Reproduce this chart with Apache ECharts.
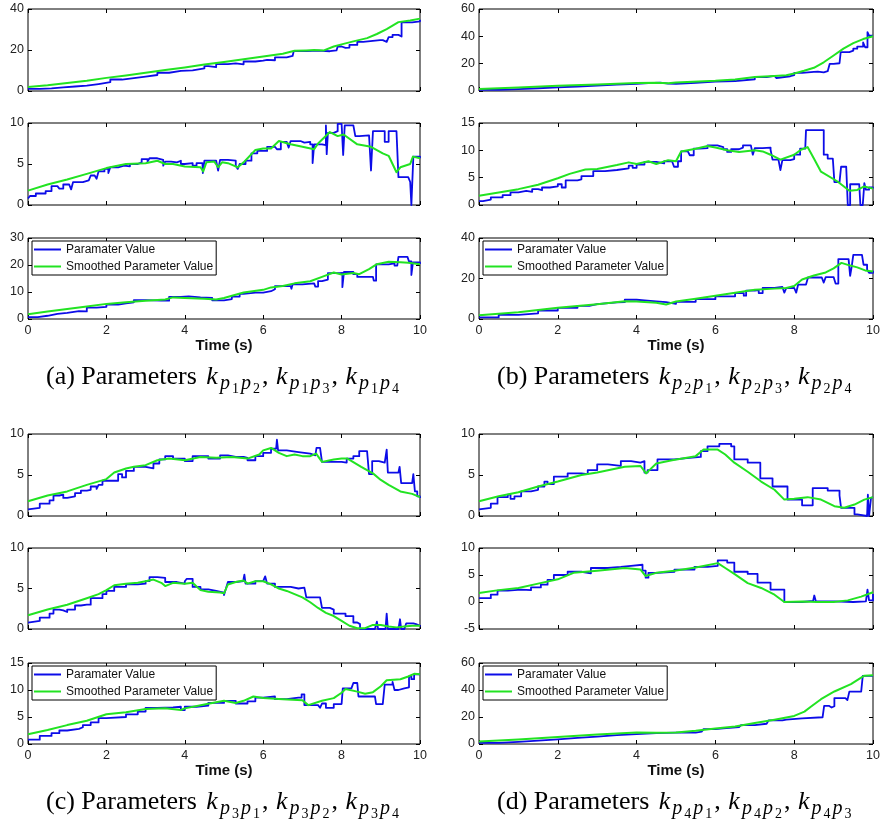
<!DOCTYPE html>
<html>
<head>
<meta charset="utf-8">
<title>Parameter estimates</title>
<script src="https://cdn.jsdelivr.net/npm/echarts@6.0.0/dist/echarts.min.js"></script>
<style>
  html, body { margin: 0; padding: 0; background: #fff; }
  #chart { width: 882px; height: 830px; }
</style>
</head>
<body>
<div id="chart"></div>
<script>
// ---- time axis ----
const timeRange = [0, 10, 2];

// ---- (a) k_p1p2, k_p1p3, k_p1p4 ----
const a1Raw = [[0,1.0],[0.3,1.3],[0.6,1.8],[0.9,2.2],[1.2,2.6],[1.5,3.4],[1.8,4.3],[2.1,5.6],[2.4,6.3],[2.7,7.0],[3.0,7.8],[3.3,8.9],[3.6,9.8],[3.9,10.1],[4.2,11.0],[4.5,12.1],[4.6,11.6],[4.8,13.1],[5.1,13.5],[5.3,13.0],[5.5,14.4],[5.8,14.8],[6.0,15.2],[6.1,15.0],[6.3,16.4],[6.6,17.1],[6.75,17.6],[6.78,19.5],[7.1,19.7],[7.4,19.4],[7.7,19.8],[7.87,20.0],[7.9,21.7],[8.0,21.0],[8.1,21.2],[8.2,22.5],[8.4,24.0],[8.55,24.8],[8.98,24.8],[9.05,24.0],[9.15,24.1],[9.2,26.3],[9.3,27.4],[9.45,27.2],[9.5,26.6],[9.53,33.5],[9.8,33.6],[9.85,34.0],[10,34.8]];
const a1Smooth = [[0,2.0],[0.5,2.8],[1,3.9],[1.5,5.0],[2,6.4],[2.5,7.6],[3,8.9],[3.5,10.2],[4,11.5],[4.5,12.9],[5,14.2],[5.5,15.5],[6,16.8],[6.5,18.2],[6.8,19.6],[7.1,19.8],[7.3,20.0],[7.55,19.8],[7.8,21.7],[8.05,23.0],[8.3,24.2],[8.65,25.8],[8.9,27.8],[9.15,30.2],[9.45,33.6],[9.75,34.4],[10,35.3]];
const a2Raw = [[0,0.8],[0.05,1.1],[0.2,1.4],[0.45,1.7],[0.6,2.3],[0.75,2.4],[0.8,2.0],[0.9,2.5],[1.05,2.3],[1.1,1.9],[1.15,2.8],[1.4,3.0],[1.55,2.9],[1.6,3.6],[1.7,3.8],[1.75,3.2],[1.8,4.1],[1.95,4.4],[2.05,3.9],[2.1,4.6],[2.3,4.8],[2.45,4.7],[2.6,5.0],[2.8,5.2],[2.9,5.6],[3.05,5.3],[3.1,5.7],[3.3,5.5],[3.45,4.8],[3.5,5.3],[3.65,5.2],[3.8,5.4],[3.9,5.0],[4.0,5.1],[4.2,4.8],[4.3,5.1],[4.45,5.0],[4.46,3.9],[4.5,5.4],[4.7,5.4],[4.8,5.3],[4.85,4.2],[4.9,5.5],[5.1,5.4],[5.3,4.8],[5.35,4.4],[5.4,5.0],[5.55,5.4],[5.7,6.3],[5.85,6.6],[6.0,6.6],[6.1,7.1],[6.3,7.3],[6.35,6.8],[6.45,7.7],[6.6,7.6],[6.65,7.0],[6.7,7.8],[6.95,7.6],[7.05,7.7],[7.2,7.4],[7.26,5.1],[7.3,7.4],[7.5,7.3],[7.6,9.7],[7.62,6.2],[7.65,8.8],[7.8,9.0],[7.9,9.9],[8.0,9.8],[8.04,6.1],[8.08,9.7],[8.3,9.6],[8.35,8.4],[8.45,8.5],[8.7,8.4],[8.75,4.2],[8.8,9.0],[9.0,9.0],[9.1,7.7],[9.2,9.0],[9.4,9.0],[9.45,3.4],[9.7,3.3],[9.75,2.8],[9.78,0.0],[9.8,0.0],[9.83,5.9],[10,5.7]];
const a2Smooth = [[0,1.75],[0.5,2.5],[1,3.1],[1.5,3.8],[2,4.5],[2.5,5.0],[3,5.1],[3.3,5.4],[3.5,5.0],[3.7,5.0],[4,4.7],[4.4,4.6],[4.47,4.1],[4.55,5.2],[4.75,5.3],[4.85,4.6],[4.95,5.2],[5.1,5.1],[5.25,4.8],[5.35,4.6],[5.5,5.2],[5.8,6.7],[6.0,6.9],[6.2,6.9],[6.4,7.8],[6.7,7.4],[7.0,7.1],[7.3,6.8],[7.4,7.5],[7.7,8.9],[7.9,8.4],[8.05,8.6],[8.4,7.4],[8.75,7.1],[9.05,6.3],[9.2,6.0],[9.4,4.0],[9.5,4.6],[9.75,5.0],[9.82,5.9],[10,5.7]];
const a3Raw = [[0,0.7],[0.25,1.2],[0.5,1.9],[0.75,2.3],[1.0,2.9],[1.3,3.3],[1.35,2.8],[1.5,4.2],[1.75,4.5],[2.0,5.3],[2.3,5.8],[2.5,6.2],[2.7,7.0],[3.0,6.8],[3.4,6.8],[3.6,8.2],[3.9,8.4],[4.1,8.0],[4.4,7.8],[4.7,6.9],[5.0,7.4],[5.2,8.3],[5.4,9.3],[5.5,9.8],[5.8,9.8],[6.0,10.3],[6.2,11.0],[6.3,12.2],[6.7,12.4],[6.72,11.2],[6.75,12.8],[7.0,13.2],[7.3,13.5],[7.33,12.0],[7.4,14.0],[7.5,14.6],[7.65,17.0],[7.95,17.1],[8.02,11.8],[8.06,17.4],[8.3,16.6],[8.4,15.6],[8.8,15.6],[8.82,14.2],[8.88,20.2],[9.2,20.6],[9.35,19.8],[9.42,20.5],[9.45,23.0],[9.68,22.8],[9.72,21.3],[9.78,16.3],[9.82,21.0],[10,20.4]];
const a3Smooth = [[0,1.8],[0.5,2.8],[1,3.7],[1.5,4.6],[2,5.6],[2.5,6.2],[3,6.8],[3.5,7.2],[3.7,8.0],[4,7.8],[4.5,7.5],[4.8,7.2],[5,7.8],[5.5,9.8],[6,10.8],[6.2,11.7],[6.5,12.2],[6.8,13.2],[7.2,14.0],[7.5,15.6],[7.8,17.2],[8.0,16.5],[8.3,17.0],[8.45,16.6],[8.7,18.5],[8.9,20.3],[9.2,21.2],[9.5,21.0],[9.7,20.8],[10,20.3]];

// ---- (b) k_p2p1, k_p2p3, k_p2p4 ----
const b1Raw = [[0,0.8],[0.5,1.4],[1,2.0],[1.5,2.6],[2,3.3],[2.5,4.0],[3,4.6],[3.5,5.3],[4,5.8],[4.3,6.2],[4.6,5.4],[4.8,5.2],[5,6.0],[5.5,6.8],[6,7.3],[6.5,8.6],[7,10.2],[7.3,11.0],[7.5,10.3],[7.55,9.5],[7.6,10.8],[7.9,11.6],[8.0,13.2],[8.2,14.0],[8.5,14.2],[8.6,13.6],[8.75,14.5],[8.85,13.8],[8.9,19.8],[9.0,20.3],[9.15,21.6],[9.18,28.5],[9.4,29.5],[9.5,31.0],[9.6,32.5],[9.75,35.5],[9.8,32.0],[9.86,43.0],[9.9,40.5],[10,40.0]];
const b1Smooth = [[0,1.5],[1,2.6],[2,3.8],[3,4.8],[4,5.8],[4.5,6.0],[4.8,5.6],[5,6.2],[6,7.5],[6.5,8.5],[7,10.3],[7.5,11.0],[7.8,11.5],[8,12.8],[8.25,14.8],[8.5,17.0],[8.75,21.0],[9,26.0],[9.25,31.0],[9.5,35.0],[9.75,38.0],[10,40.0]];
const b2Raw = [[0,0.7],[0.1,1.0],[0.3,1.4],[0.6,1.8],[0.8,2.3],[1.0,2.6],[1.2,2.4],[1.35,2.9],[1.5,2.7],[1.6,3.2],[1.8,3.4],[2.0,3.8],[2.1,3.2],[2.2,4.5],[2.5,4.7],[2.6,5.3],[2.9,6.2],[3.2,6.4],[3.5,6.7],[3.8,7.2],[3.9,6.8],[4.0,7.4],[4.2,7.9],[4.5,7.6],[4.7,8.0],[4.9,7.7],[4.95,7.0],[5.05,8.0],[5.13,9.8],[5.3,9.8],[5.35,9.1],[5.45,10.3],[5.6,10.4],[5.8,10.9],[6.05,10.6],[6.2,10.2],[6.3,9.7],[6.4,10.2],[6.6,10.5],[6.7,10.9],[6.9,10.8],[6.95,9.2],[7.0,10.4],[7.2,10.5],[7.4,10.1],[7.45,8.3],[7.6,8.6],[7.65,6.4],[7.7,8.2],[7.9,8.4],[8.0,9.2],[8.15,10.3],[8.28,10.4],[8.3,13.7],[8.68,13.7],[8.75,9.2],[8.85,8.5],[8.98,8.3],[9.02,4.2],[9.15,4.3],[9.19,7.0],[9.32,7.0],[9.36,0.0],[9.4,0.0],[9.42,3.8],[9.65,3.8],[9.68,0.0],[9.74,0.0],[9.78,4.0],[9.82,2.8],[9.9,3.2],[10,3.0]];
const b2Smooth = [[0,1.7],[0.5,2.3],[1,2.9],[1.5,3.7],[2,4.9],[2.3,5.7],[2.7,6.5],[3,6.6],[3.5,7.3],[3.8,7.8],[4.0,7.5],[4.3,8.0],[4.5,7.5],[4.8,8.2],[5.0,8.0],[5.13,9.8],[5.5,10.3],[5.8,10.8],[6.0,10.5],[6.3,10.0],[6.6,9.7],[7.0,10.0],[7.2,9.8],[7.4,9.2],[7.65,8.3],[8.0,9.2],[8.17,10.1],[8.34,10.6],[8.5,8.5],[8.68,6.1],[9.1,4.3],[9.4,2.6],[9.6,2.75],[9.78,3.4],[10,3.0]];
const b3Raw = [[0,0.8],[0.5,2.0],[1,2.8],[1.5,4.2],[2,5.5],[2.5,6.5],[2.8,7.3],[3,8.2],[3.5,8.3],[3.7,9.5],[4,9.2],[4.2,8.7],[4.5,8.3],[4.75,7.5],[5,8.5],[5.5,9.8],[6,11.2],[6.5,12.8],[6.72,11.5],[6.78,14.0],[7.0,14.3],[7.1,12.8],[7.2,15.3],[7.5,15.8],[7.7,15.5],[7.75,13.0],[7.8,15.3],[8.0,15.2],[8.05,13.0],[8.1,17.0],[8.3,17.2],[8.35,20.5],[8.7,20.8],[8.75,18.0],[8.8,20.7],[9.0,20.5],[9.05,17.5],[9.12,29.6],[9.38,29.6],[9.42,21.3],[9.46,26.0],[9.5,31.7],[9.72,31.7],[9.76,26.8],[9.85,24.3],[9.9,22.8],[10,23.8]];
const b3Smooth = [[0,1.8],[1,3.3],[2,5.5],[3,7.3],[3.7,8.8],[4,8.7],[4.5,8.0],[4.75,7.2],[5,8.6],[5.5,10.0],[6,11.5],[6.5,13.0],[7,14.5],[7.5,15.0],[7.8,15.3],[8,16.3],[8.2,19.5],[8.5,21.5],[8.8,23.0],[9.0,25.0],[9.2,27.7],[9.4,26.5],[9.6,25.5],[9.8,24.0],[10,23.5]];

// ---- (c) k_p3p1, k_p3p2, k_p3p4 ----
const c1Raw = [[0,0.8],[0.05,1.0],[0.3,1.5],[0.55,1.9],[0.65,2.5],[0.8,2.6],[0.9,2.2],[1.0,2.4],[1.2,2.8],[1.35,3.1],[1.5,3.2],[1.6,3.6],[1.75,3.3],[1.8,3.8],[1.9,4.3],[2.1,4.3],[2.3,5.1],[2.4,4.7],[2.5,5.5],[2.7,6.0],[2.9,6.0],[3.0,5.8],[3.2,6.4],[3.35,6.9],[3.5,7.3],[3.7,7.0],[3.9,7.0],[4.0,6.7],[4.2,7.3],[4.4,7.3],[4.6,7.0],[4.9,7.4],[5.1,7.2],[5.3,7.2],[5.5,7.1],[5.6,6.8],[5.8,7.3],[6.0,7.7],[6.2,8.2],[6.33,8.2],[6.35,9.3],[6.38,8.0],[6.6,7.8],[6.9,7.6],[7.2,7.4],[7.33,7.4],[7.36,8.3],[7.45,8.2],[7.5,6.6],[7.8,6.6],[8.0,6.5],[8.13,7.0],[8.3,7.3],[8.45,7.9],[8.65,7.8],[8.7,5.1],[8.78,6.7],[8.95,6.5],[9.1,6.7],[9.15,8.1],[9.18,5.3],[9.45,5.2],[9.48,6.0],[9.52,4.0],[9.8,3.9],[9.83,5.1],[9.87,3.0],[9.93,2.4],[10,2.2]];
const c1Smooth = [[0,1.8],[0.5,2.5],[1,3.0],[1.5,3.8],[2,4.5],[2.2,5.3],[2.5,5.8],[2.7,6.0],[3,6.2],[3.3,6.8],[3.6,7.0],[4,6.8],[4.4,7.2],[4.8,7.1],[5.2,7.2],[5.6,7.0],[5.9,7.5],[6.0,8.0],[6.2,8.3],[6.4,7.7],[6.6,7.3],[6.8,7.5],[7.0,7.3],[7.2,7.3],[7.35,7.6],[7.5,6.6],[7.8,6.9],[8.0,7.0],[8.15,7.0],[8.5,6.0],[8.8,5.2],[9.0,4.4],[9.2,3.8],[9.5,3.0],[9.8,2.7],[10,2.3]];
const c2Raw = [[0,0.8],[0.05,1.0],[0.3,1.4],[0.55,1.9],[0.65,2.4],[0.8,2.3],[0.9,2.1],[1.0,2.4],[1.2,2.9],[1.35,3.0],[1.5,3.0],[1.6,3.8],[1.8,3.8],[1.9,4.3],[2.0,4.7],[2.2,5.2],[2.5,5.5],[2.8,5.6],[3.0,5.9],[3.1,6.4],[3.3,6.3],[3.5,5.8],[3.8,5.6],[4.0,5.9],[4.05,6.2],[4.2,5.2],[4.4,4.9],[4.6,4.7],[4.8,4.5],[5.0,4.2],[5.05,5.0],[5.1,5.8],[5.3,5.9],[5.5,6.2],[5.52,6.7],[5.55,5.6],[5.8,5.9],[6.0,5.9],[6.05,6.5],[6.1,5.6],[6.3,5.2],[6.5,5.2],[6.7,5.0],[6.9,5.1],[7.05,5.1],[7.1,3.9],[7.45,3.8],[7.5,2.6],[7.7,2.4],[7.8,1.9],[8.1,1.6],[8.3,0.8],[8.4,0.6],[8.47,0.0],[8.85,0.0],[8.9,0.9],[8.93,0.0],[9.12,0.0],[9.15,1.9],[9.18,0.0],[9.45,0.0],[9.49,1.2],[9.52,0.0],[9.6,0.2],[9.65,0.7],[9.83,0.6],[9.9,0.4],[10,0.3]];
const c2Smooth = [[0,1.7],[0.5,2.4],[1,3.0],[1.5,3.8],[1.8,4.3],[2,4.8],[2.2,5.4],[2.5,5.6],[2.8,5.7],[3,5.9],[3.2,6.1],[3.4,5.7],[3.5,5.3],[3.7,5.7],[4,5.6],[4.2,5.7],[4.4,4.8],[4.6,4.6],[4.9,4.5],[5.0,4.4],[5.1,5.5],[5.3,5.8],[5.5,6.0],[5.6,5.6],[5.8,5.9],[6.0,5.9],[6.2,5.5],[6.4,5.0],[6.6,4.7],[6.8,4.3],[7.0,3.9],[7.2,3.3],[7.4,2.6],[7.6,2.0],[7.8,1.6],[8.0,1.0],[8.2,0.4],[8.4,0.1],[8.6,0.1],[8.8,0.5],[9.0,0.5],[9.2,0.3],[9.4,0.2],[9.6,0.3],[9.8,0.4],[10,0.4]];
const c3Raw = [[0,0.8],[0.3,1.5],[0.6,2.0],[0.8,2.5],[1.0,2.8],[1.3,3.1],[1.4,3.5],[1.6,4.0],[1.8,4.8],[2.0,5.0],[2.5,5.5],[2.8,6.0],[3.0,6.7],[3.3,6.8],[3.7,6.9],[3.9,6.3],[4.0,6.9],[4.3,7.1],[4.6,7.6],[5.0,8.0],[5.3,7.5],[5.6,7.9],[5.8,8.6],[6.0,8.8],[6.3,8.3],[6.6,8.6],[6.9,8.6],[6.98,9.2],[7.05,7.2],[7.4,7.2],[7.45,6.7],[7.5,7.5],[7.6,6.7],[7.8,7.4],[8.0,7.4],[8.03,10.3],[8.25,10.2],[8.3,11.3],[8.4,11.0],[8.43,8.8],[8.85,8.8],[8.88,7.4],[9.05,7.4],[9.1,11.0],[9.3,11.5],[9.35,10.0],[9.45,10.3],[9.6,10.5],[9.72,12.5],[9.78,12.0],[9.85,12.9],[10,13.0]];
const c3Smooth = [[0,1.8],[0.5,2.6],[1,3.5],[1.5,4.3],[2,5.5],[2.5,5.9],[3,6.5],[3.5,6.6],[3.9,6.3],[4,6.6],[4.5,7.3],[5,8.0],[5.3,7.6],[5.5,8.0],[5.75,8.8],[6,8.5],[6.5,8.3],[7,8.1],[7.15,7.2],[7.5,8.0],[7.8,8.5],[8,9.5],[8.1,10.2],[8.4,9.7],[8.6,9.3],[8.8,9.6],[9.0,10.7],[9.15,11.8],[9.5,12.0],[9.7,12.5],[9.85,13.0],[10,12.9]];

// ---- (d) k_p4p1, k_p4p2, k_p4p3 ----
const d1Raw = [[0,0.8],[0.05,1.0],[0.3,1.5],[0.47,2.3],[0.73,2.6],[0.8,2.1],[0.9,2.4],[1.07,3.0],[1.32,3.2],[1.5,3.6],[1.66,4.2],[1.74,3.9],[1.9,4.8],[2.25,5.2],[2.6,5.1],[2.76,5.6],[3.0,6.3],[3.27,6.1],[3.6,6.7],[3.86,6.5],[4.1,6.7],[4.2,5.3],[4.28,5.6],[4.53,6.9],[4.96,7.1],[5.34,7.2],[5.63,7.9],[5.8,8.5],[6.1,8.8],[6.4,8.5],[6.48,6.9],[6.82,6.5],[7.14,4.6],[7.45,3.6],[7.83,2.0],[8.0,2.0],[8.2,1.3],[8.47,3.4],[8.85,3.1],[9.15,2.5],[9.19,1.0],[9.53,0.2],[9.6,0.0],[9.85,0.0],[9.87,2.6],[9.9,0.0],[9.95,2.2],[10,2.3]];
const d1Smooth = [[0,1.8],[0.5,2.4],[1,2.9],[1.5,3.6],[2,4.2],[2.6,5.0],[3,5.3],[3.7,6.0],[4.1,6.1],[4.24,5.2],[4.5,6.4],[4.9,6.8],[5.5,7.3],[5.7,8.1],[6.06,8.1],[6.25,7.5],[6.48,6.5],[6.82,5.4],[7.16,4.2],[7.5,3.2],[7.75,2.0],[8.0,2.1],[8.34,2.3],[8.68,2.0],[9.02,1.2],[9.27,1.0],[9.53,1.4],[9.78,2.0],[10,2.3]];
const d2Raw = [[0,0.7],[0.3,1.35],[0.47,2.1],[0.73,2.3],[1.07,2.2],[1.32,2.7],[1.57,3.2],[1.74,4.1],[1.9,5.0],[2.25,5.6],[2.6,5.3],[2.84,6.3],[3.27,6.5],[3.6,6.7],[3.86,6.9],[4.15,5.8],[4.23,4.5],[4.3,5.4],[4.53,5.6],[4.96,6.0],[5.47,6.5],[5.8,6.7],[6.06,7.7],[6.3,7.3],[6.48,5.6],[6.82,5.2],[7.07,3.6],[7.4,2.3],[7.75,0.0],[8.2,0.2],[8.48,0.1],[8.51,1.2],[8.55,0.1],[9.0,0.0],[9.5,0.1],[9.82,0.0],[9.86,2.3],[9.9,0.3],[10,1.5]];
const d2Smooth = [[0,1.65],[0.5,2.2],[1,2.6],[1.5,3.4],[2,4.2],[2.4,5.4],[3,5.8],[3.7,6.3],[4.1,6.0],[4.23,4.8],[4.5,5.4],[4.96,5.8],[5.5,6.4],[6.06,7.2],[6.25,6.3],[6.48,5.2],[6.82,3.5],[7.16,2.6],[7.5,1.35],[7.75,0.0],[8.2,0.1],[8.6,0.0],[9.0,0.0],[9.36,0.3],[9.7,1.0],[10,1.8]];
const d3Raw = [[0,0.8],[0.5,1.5],[1,2.5],[1.5,3.5],[2,4.5],[2.5,5.5],[3,6.5],[3.5,7.3],[4,8.0],[4.5,8.5],[5,8.5],[5.5,9.2],[5.65,9.5],[5.7,11.0],[6.0,11.5],[6.2,11.0],[6.25,12.5],[6.6,12.8],[6.65,14.0],[7.0,15.0],[7.3,15.5],[7.35,17.5],[7.7,18.0],[7.8,19.0],[8.2,19.8],[8.72,19.8],[8.76,28.3],[8.88,28.3],[8.9,27.0],[8.95,28.0],[9.02,34.0],[9.3,34.0],[9.35,32.5],[9.4,38.8],[9.7,39.0],[9.74,50.5],[10,50.0]];
const d3Smooth = [[0,1.8],[1,3.3],[2,5.2],[3,7.0],[4,8.5],[4.5,8.4],[5,8.6],[5.5,9.8],[6,11.5],[6.5,13.0],[7,15.5],[7.5,18.0],[8,20.8],[8.26,24.0],[8.43,27.8],[8.68,33.2],[9.02,38.9],[9.44,44.4],[9.78,50.6],[10,50.9]];

// y ranges [min, max, interval] per subplot, top to bottom
const aYRange = [[0, 40, 20], [0, 10, 5], [0, 30, 10]];
const bYRange = [[0, 60, 20], [0, 15, 5], [0, 40, 20]];
const cYRange = [[0, 10, 5], [0, 10, 5], [0, 15, 5]];
const dYRange = [[0, 10, 5], [-5, 10, 5], [0, 60, 20]];

const seriesNames = ['Paramater Value', 'Smoothed Parameter Value'];
const panelLetters = ['a', 'b', 'c', 'd'];
const panelOwner = [1, 2, 3, 4];
const panelOthers = [[2, 3, 4], [1, 3, 4], [1, 2, 4], [1, 2, 3]];
const xTitle = 'Time (s)';

// ---- layout ----
const BLUE = '#0c0ce8';
const GREEN = '#22e322';
const SANS = '"Liberation Sans", Arial, Helvetica, sans-serif';
const SERIF = '"Liberation Serif", "Times New Roman", serif';

const panels = [
  { raw: [a1Raw, a2Raw, a3Raw], smooth: [a1Smooth, a2Smooth, a3Smooth], y: aYRange },
  { raw: [b1Raw, b2Raw, b3Raw], smooth: [b1Smooth, b2Smooth, b3Smooth], y: bYRange },
  { raw: [c1Raw, c2Raw, c3Raw], smooth: [c1Smooth, c2Smooth, c3Smooth], y: cYRange },
  { raw: [d1Raw, d2Raw, d3Raw], smooth: [d1Smooth, d2Smooth, d3Smooth], y: dYRange }
];
const colBox = [{ left: 28, width: 392 }, { left: 479, width: 394 }];
const rowBoxes = [
  [{ top: 9, height: 82 }, { top: 123, height: 82 }, { top: 238, height: 81 }],
  [{ top: 434, height: 82 }, { top: 548, height: 81 }, { top: 663, height: 81 }]
];
const captionPos = [{ x: 46, y: 364 }, { x: 497, y: 364 }, { x: 46, y: 789 }, { x: 497, y: 789 }];

const grids = [], xAxes = [], yAxes = [], series = [], legends = [], graphics = [];

const tickStyle = { show: true, inside: true, length: 4, lineStyle: { color: '#000', width: 1 } };
const noLine = { show: false, onZero: false };

panels.forEach((panel, p) => {
  const col = colBox[p % 2];
  const rows = rowBoxes[Math.floor(p / 2)];
  for (let s = 0; s < 3; s++) {
    const g = grids.length;
    const box = rows[s];
    const isBottom = s === 2;
    grids.push({
      left: col.left, top: box.top, width: col.width, height: box.height,
      show: true, borderColor: '#000', borderWidth: 1, backgroundColor: 'transparent',
      containLabel: false, outerBoundsMode: 'none'
    });
    const xBase = {
      gridIndex: g, type: 'value', min: timeRange[0], max: timeRange[1], interval: timeRange[2],
      axisLine: noLine, splitLine: { show: false }, axisTick: tickStyle
    };
    xAxes.push(Object.assign({}, xBase, {
      position: 'bottom',
      axisLabel: { show: isBottom, fontSize: 12.5, color: '#222', margin: 5, fontFamily: SANS },
      name: isBottom ? xTitle : '', nameLocation: 'middle', nameGap: 17,
      nameTextStyle: { fontWeight: 'bold', fontSize: 15, color: '#111', fontFamily: SANS }
    }));
    const xMain = xAxes.length - 1;
    xAxes.push(Object.assign({}, xBase, { position: 'top', axisLabel: { show: false } }));

    const yr = panel.y[s];
    const yBase = {
      gridIndex: g, type: 'value', min: yr[0], max: yr[1], interval: yr[2],
      axisLine: noLine, splitLine: { show: false }, axisTick: tickStyle
    };
    yAxes.push(Object.assign({}, yBase, {
      position: 'left',
      axisLabel: { show: true, fontSize: 12.5, color: '#222', margin: 4, fontFamily: SANS }
    }));
    const yMain = yAxes.length - 1;
    yAxes.push(Object.assign({}, yBase, { position: 'right', axisLabel: { show: false } }));

    // raw estimate: held between samples, so drawn as a staircase
    series.push({
      name: seriesNames[0], type: 'line', step: 'end', xAxisIndex: xMain, yAxisIndex: yMain,
      data: panel.raw[s], symbol: 'none', showSymbol: false, z: 2,
      lineStyle: { color: BLUE, width: 1.8, join: 'round' }, itemStyle: { color: BLUE },
      emphasis: { disabled: true }
    });
    series.push({
      name: seriesNames[1], type: 'line', xAxisIndex: xMain, yAxisIndex: yMain,
      data: panel.smooth[s], symbol: 'none', showSymbol: false, z: 3,
      lineStyle: { color: GREEN, width: 2, join: 'round' }, itemStyle: { color: GREEN },
      emphasis: { disabled: true }
    });

    if (isBottom) {
      legends.push({
        left: col.left + 4, top: box.top + 3, orient: 'vertical',
        padding: [2, 3, 2, 2], itemGap: 4, itemWidth: 27, itemHeight: 2, icon: 'rect',
        borderColor: '#000', borderWidth: 1, backgroundColor: '#fff',
        selectedMode: false, z: 10,
        textStyle: { fontSize: 12, color: '#111', fontFamily: SANS, lineHeight: 13 },
        data: seriesNames.slice()
      });
    }
  }

  // caption: (x) Parameters k_{p_i p_j}, ...
  const own = panelOwner[p];
  const groups = panelOthers[p].map(o => '{k|k}{p|p}{d|' + own + '}{p|p}{d|' + o + '}');
  const captionText = '{m|(' + panelLetters[p] + ') Parameters }' + groups.join('{c|, }');
  graphics.push({
    type: 'text', x: captionPos[p].x, y: captionPos[p].y, silent: true,
    style: {
      text: captionText, align: 'left', verticalAlign: 'top', fill: '#000',
      rich: {
        m: { fontFamily: SERIF, fontSize: 26, lineHeight: 32, verticalAlign: 'top', padding: [0, 3, 0, 0], color: '#000' },
        c: { fontFamily: SERIF, fontSize: 26, lineHeight: 32, verticalAlign: 'top', padding: [0, 1, 0, 0], color: '#000' },
        k: { fontFamily: SERIF, fontSize: 26, fontStyle: 'italic', lineHeight: 32, verticalAlign: 'top', padding: [0, 2, 0, 0], color: '#000' },
        p: { fontFamily: SERIF, fontSize: 20, fontStyle: 'italic', lineHeight: 32, verticalAlign: 'top', padding: [10, 2, 0, 0], color: '#000' },
        d: { fontFamily: SERIF, fontSize: 14, lineHeight: 32, verticalAlign: 'top', padding: [18, 2, 0, 0], color: '#000' }
      }
    }
  });
});

const chart = echarts.init(document.getElementById('chart'), null, { renderer: 'canvas' });
chart.setOption({
  backgroundColor: '#fff',
  animation: false,
  grid: grids,
  xAxis: xAxes,
  yAxis: yAxes,
  legend: legends,
  series: series,
  graphic: graphics
});
</script>
</body>
</html>
